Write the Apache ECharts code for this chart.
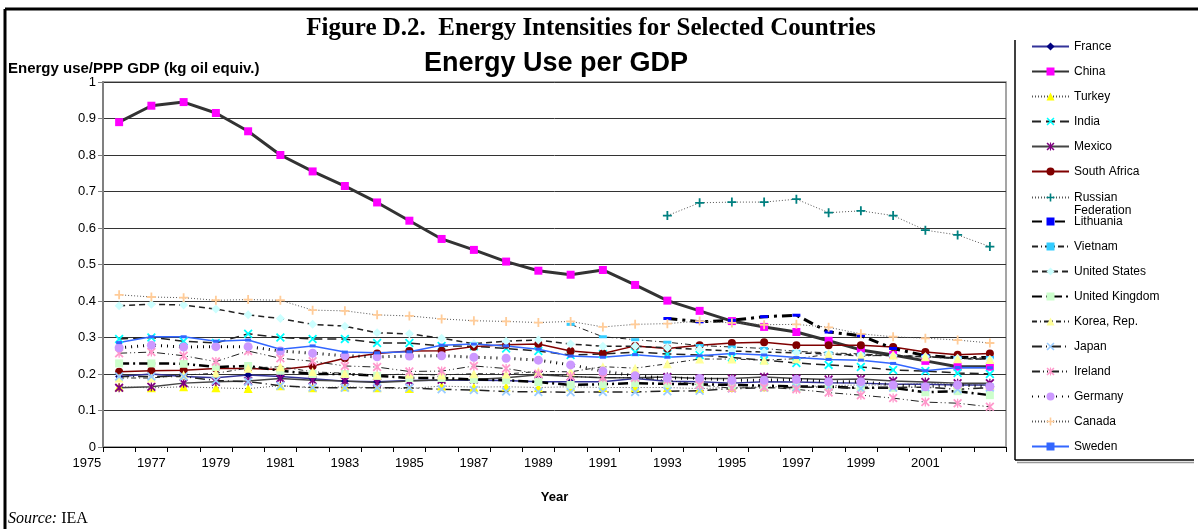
<!doctype html>
<html>
<head>
  <meta charset="UTF-8" />
  <title>Energy Use per GDP</title>
  <script src="https://cdn.jsdelivr.net/npm/echarts@6.0.0/dist/echarts.min.js"></script>
  <style>
    html, body { margin: 0; padding: 0; background: #ffffff; }
    #chart { width: 1198px; height: 529px; }
  </style>
</head>
<body>
  <div id="chart"></div>
  <script>
    // years 1976..2003, one category per year
    const years = [];
    for (let y = 1976; y <= 2003; y++) years.push(String(y));
    const yTicks = [0, 0.1, 0.2, 0.3, 0.4, 0.5, 0.6, 0.7, 0.8, 0.9, 1];

    const france = [0.193,0.2,0.193,0.19,0.197,0.193,0.187,0.18,0.179,0.182,0.183,0.183,0.182,0.179,0.179,0.179,0.188,0.18,0.179,0.175,0.179,0.178,0.176,0.175,0.172,0.172,0.17,0.17];
    const china = [0.89,0.935,0.945,0.915,0.865,0.80,0.755,0.715,0.67,0.62,0.57,0.54,0.508,0.483,0.472,0.485,0.444,0.401,0.373,0.345,0.329,0.315,0.291,0.266,0.252,0.236,0.22,0.22];
    const turkey = [0.165,0.162,0.165,0.162,0.16,0.168,0.162,0.165,0.162,0.16,0.167,0.164,0.165,0.163,0.165,0.163,0.163,0.163,0.16,0.163,0.165,0.165,0.168,0.17,0.17,0.175,0.172,0.17];
    const india = [0.296,0.30,0.29,0.285,0.31,0.30,0.296,0.296,0.285,0.285,0.277,0.276,0.27,0.263,0.252,0.255,0.26,0.255,0.252,0.245,0.238,0.23,0.225,0.219,0.211,0.208,0.203,0.2];
    const mexico = [0.162,0.165,0.175,0.179,0.181,0.188,0.183,0.181,0.177,0.181,0.184,0.185,0.19,0.198,0.193,0.19,0.19,0.192,0.188,0.188,0.192,0.188,0.185,0.186,0.181,0.178,0.175,0.175];
    const southAfrica = [0.206,0.209,0.21,0.215,0.215,0.212,0.222,0.243,0.256,0.263,0.264,0.275,0.28,0.282,0.263,0.256,0.277,0.27,0.279,0.285,0.287,0.279,0.279,0.279,0.274,0.26,0.253,0.256];
    const russia = [null,null,null,null,null,null,null,null,null,null,null,null,null,null,null,null,null,0.634,0.669,0.671,0.671,0.679,0.642,0.647,0.634,0.594,0.581,0.549];
    const lithuania = [null,null,null,null,null,null,null,null,null,null,null,null,null,null,null,null,null,0.352,0.343,0.347,0.357,0.361,0.315,0.305,0.27,0.25,0.245,0.245];
    const vietnam = [null,null,null,null,null,null,null,null,null,null,null,null,null,null,0.336,0.302,0.294,0.287,0.278,0.274,0.27,0.262,0.258,0.255,0.25,0.248,0.245,0.245];
    const unitedStates = [0.387,0.391,0.389,0.378,0.362,0.352,0.336,0.331,0.313,0.31,0.298,0.283,0.29,0.293,0.282,0.276,0.276,0.272,0.267,0.263,0.26,0.258,0.255,0.252,0.25,0.247,0.243,0.24];
    const unitedKingdom = [0.229,0.229,0.228,0.219,0.222,0.209,0.2,0.2,0.195,0.189,0.189,0.185,0.183,0.178,0.17,0.172,0.175,0.173,0.172,0.17,0.168,0.166,0.165,0.162,0.162,0.15,0.153,0.142];
    const korea = [0.189,0.189,0.197,0.202,0.216,0.22,0.206,0.202,0.197,0.2,0.197,0.201,0.2,0.207,0.206,0.22,0.216,0.228,0.241,0.241,0.238,0.242,0.254,0.249,0.252,0.247,0.242,0.24];
    const japan = [0.193,0.193,0.193,0.182,0.179,0.168,0.163,0.162,0.162,0.162,0.158,0.156,0.152,0.151,0.15,0.151,0.151,0.153,0.154,0.16,0.162,0.163,0.165,0.16,0.163,0.164,0.158,0.163];
    const ireland = [0.257,0.26,0.25,0.234,0.263,0.243,0.235,0.222,0.219,0.207,0.208,0.222,0.215,0.201,0.193,0.19,0.19,0.183,0.17,0.161,0.164,0.158,0.149,0.142,0.134,0.123,0.12,0.11];
    const germany = [0.272,0.279,0.274,0.275,0.275,0.263,0.257,0.25,0.247,0.249,0.25,0.246,0.243,0.238,0.225,0.208,0.195,0.189,0.188,0.183,0.183,0.185,0.179,0.179,0.17,0.165,0.17,0.165];
    const canada = [0.417,0.411,0.409,0.402,0.404,0.402,0.375,0.373,0.362,0.359,0.351,0.346,0.344,0.341,0.344,0.329,0.336,0.338,0.345,0.34,0.335,0.336,0.328,0.31,0.302,0.298,0.293,0.285];
    const sweden = [0.286,0.302,0.302,0.29,0.293,0.268,0.277,0.26,0.258,0.261,0.279,0.282,0.277,0.268,0.249,0.246,0.253,0.246,0.25,0.256,0.252,0.245,0.24,0.238,0.229,0.209,0.218,0.217];

    const SANS = "'Liberation Sans', Arial, sans-serif";
    const SERIF = "'Liberation Serif', 'Times New Roman', serif";

    // marker shapes
    const PLUS = "path://M4,0L6,0L6,4L10,4L10,6L6,6L6,10L4,10L4,6L0,6L0,4L4,4Z";
    const CROSS = "path://M0,1.4L1.4,0L10,8.6L8.6,10ZM8.6,0L10,1.4L1.4,10L0,8.6Z";
    const STAR = "path://M0,1.4L1.4,0L10,8.6L8.6,10ZM8.6,0L10,1.4L1.4,10L0,8.6ZM4.3,0L5.7,0L5.7,10L4.3,10Z";

    const mk = (name, data, symbol, symbolSize, fill, lineColor, width, type) => ({
      name: name,
      type: "line",
      data: data,
      symbol: symbol,
      symbolSize: symbolSize,
      symbolKeepAspect: true,
      showAllSymbol: true,
      connectNulls: false,
      itemStyle: { color: fill, borderWidth: 0 },
      lineStyle: { color: lineColor, width: width, type: type, cap: "butt" },
      emphasis: { disabled: true },
      animation: false,
      z: 2,
    });

    const series = [
      mk("France", france, "diamond", 8, "#000080", "#333399", 1.5, "solid"),
      mk("China", china, "rect", 8, "#ff00ff", "#333333", 3, "solid"),
      mk("Turkey", turkey, "triangle", 9, "#ffff00", "#555555", 1, [1, 2]),
      mk("India", india, CROSS, 9, "#00ffff", "#222222", 1.5, [9, 5]),
      mk("Mexico", mexico, STAR, 9, "#800080", "#444444", 1.5, "solid"),
      mk("South Africa", southAfrica, "circle", 8, "#800000", "#800000", 1.5, "solid"),
      mk("Russian Federation", russia, PLUS, 9, "#008080", "#555555", 1, [1, 2]),
      mk("Lithuania", lithuania, "rect", [8, 3], "#0000ff", "#000000", 3, [10, 5, 3, 5]),
      mk("Vietnam", vietnam, "rect", [8, 3], "#33ccff", "#222222", 1, [6, 3, 1, 3]),
      mk("United States", unitedStates, "diamond", 9, "#ccffff", "#222222", 1.5, [6, 4]),
      mk("United Kingdom", unitedKingdom, "rect", 8, "#ccffcc", "#000000", 2.5, [10, 4, 2, 4]),
      mk("Korea, Rep.", korea, "triangle", 9, "#ffff99", "#222222", 1, [5, 3, 1, 3]),
      mk("Japan", japan, CROSS, 9, "#99ccff", "#222222", 1.5, [10, 4, 1, 4]),
      mk("Ireland", ireland, STAR, 9, "#ff99cc", "#222222", 1, [8, 3, 1, 3, 1, 3]),
      mk("Germany", germany, "circle", 9, "#cc99ff", "#000000", 3, [1, 5]),
      mk("Canada", canada, PLUS, 9, "#ffcc99", "#555555", 1, [1, 2]),
      mk("Sweden", sweden, "rect", [6, 3], "#3366ff", "#3366ff", 1.5, "solid"),
    ];

    const legendBase = {
      orient: "vertical",
      left: 1031,
      padding: 0,
      itemWidth: 37,
      itemHeight: 10,
      itemGap: 12,
      selectedMode: false,
      textStyle: { fontFamily: SANS, fontSize: 12, color: "#000", lineHeight: 13 },
    };

    const chart = echarts.init(document.getElementById("chart"));
    const option = {
      animation: false,
      backgroundColor: "#ffffff",
      title: [
        {
          text: "Figure D.2.  Energy Intensities for Selected Countries",
          left: 591, top: 16, textAlign: "center", padding: 0,
          textStyle: { fontFamily: SERIF, fontWeight: "bold", fontSize: 25, color: "#000" },
        },
        {
          text: "Energy Use per GDP",
          left: 556, top: 50, textAlign: "center", padding: 0,
          textStyle: { fontFamily: SANS, fontWeight: "bold", fontSize: 27, color: "#000" },
        },
        {
          text: "Energy use/PPP GDP (kg oil equiv.)",
          left: 8, top: 61, padding: 0,
          textStyle: { fontFamily: SANS, fontWeight: "bold", fontSize: 15, color: "#000" },
        },
        {
          text: "{i|Source:} IEA",
          left: 8, top: 511, padding: 0,
          textStyle: {
            fontFamily: SERIF, fontSize: 16, fontWeight: "normal", color: "#000",
            rich: { i: { fontFamily: SERIF, fontSize: 16, fontStyle: "italic", color: "#000" } },
          },
        },
      ],
      legend: [
        Object.assign({}, legendBase, {
          top: 40,
          data: ["France", "China", "Turkey", "India", "Mexico", "South Africa"],
        }),
        Object.assign({}, legendBase, {
          top: 178,
          data: ["Russian Federation"],
          // blank first line keeps the icon level with "Russian"
          formatter: (n) => (n === "Russian Federation" ? " \nRussian\nFederation" : n),
        }),
        Object.assign({}, legendBase, {
          top: 215,
          data: ["Lithuania", "Vietnam", "United States", "United Kingdom", "Korea, Rep.",
                 "Japan", "Ireland", "Germany", "Canada", "Sweden"],
        }),
      ],
      grid: {
        left: 103, top: 82, right: 192, bottom: 82,
        show: true, borderColor: "#888888", borderWidth: 1.5, backgroundColor: "#ffffff",
      },
      xAxis: {
        type: "category",
        data: years,
        boundaryGap: true,
        name: "Year",
        nameLocation: "middle",
        nameGap: 44,
        nameTextStyle: { fontFamily: SANS, fontWeight: "bold", fontSize: 13, color: "#000" },
        axisLine: { show: true, lineStyle: { color: "#000", width: 1 } },
        axisTick: { show: true, interval: 0, alignWithLabel: false, length: 5, lineStyle: { color: "#000" } },
        axisLabel: {
          interval: (idx) => idx % 2 === 1 && idx < years.length - 1,
          margin: 10,
          fontFamily: SANS, fontSize: 13, color: "#000",
        },
        splitLine: { show: false },
      },
      yAxis: {
        type: "value",
        min: yTicks[0],
        max: yTicks[yTicks.length - 1],
        interval: 0.1,
        axisLine: { show: true, lineStyle: { color: "#808080", width: 2 } },
        axisTick: { show: true, inside: false, length: 5, lineStyle: { color: "#808080" } },
        axisLabel: {
          margin: 7, fontFamily: SANS, fontSize: 13, color: "#000",
          formatter: (v) => String(Math.round(v * 10) / 10),
        },
        splitLine: { show: true, lineStyle: { color: "#333333", width: 1 } },
      },
      series: series,
    };
    chart.setOption(option);

    // first odd-year label sits one category left of the axis
    const p0 = chart.convertToPixel({ xAxisIndex: 0 }, years[0]);
    const p1 = chart.convertToPixel({ xAxisIndex: 0 }, years[1]);
    const yBase = chart.convertToPixel({ yAxisIndex: 0 }, 0);

    chart.setOption({
      graphic: [
        { type: "line", shape: { x1: 5, y1: 9, x2: 1198, y2: 9 }, style: { stroke: "#000", lineWidth: 3 }, silent: true },
        { type: "line", shape: { x1: 5, y1: 9, x2: 5, y2: 529 }, style: { stroke: "#000", lineWidth: 3 }, silent: true },
        { type: "line", shape: { x1: 1015, y1: 40, x2: 1015, y2: 460 }, style: { stroke: "#000", lineWidth: 1.5 }, silent: true },
        { type: "line", shape: { x1: 1015, y1: 460, x2: 1194, y2: 460 }, style: { stroke: "#000", lineWidth: 1.5 }, silent: true },
        { type: "line", shape: { x1: 1017, y1: 462.5, x2: 1194, y2: 462.5 }, style: { stroke: "#999", lineWidth: 1.5 }, silent: true },
        {
          type: "text",
          x: 2 * p0 - p1,
          y: yBase + 10,
          style: {
            text: String(Number(years[1]) - 2),
            fontFamily: SANS, fontSize: 13, fill: "#000",
            align: "center", verticalAlign: "top",
          },
          silent: true,
        },
      ],
    });
  </script>
</body>
</html>
